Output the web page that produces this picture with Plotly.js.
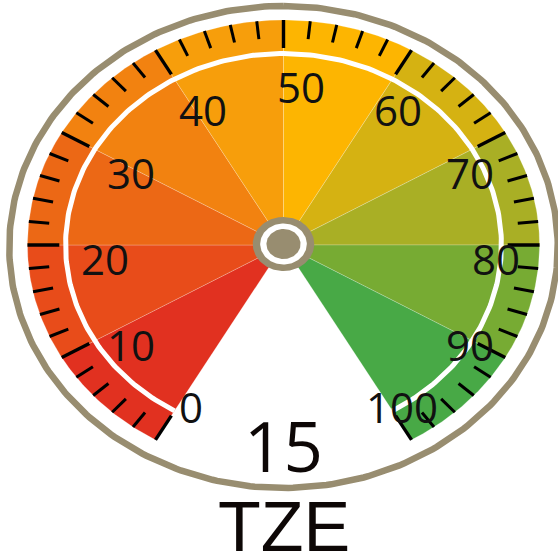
<!DOCTYPE html>
<html><head><meta charset="utf-8">
<script src="https://cdn.plot.ly/plotly-3.0.1.min.js"></script>
<style>html,body{margin:0;padding:0;background:#fff;overflow:hidden}#chart{width:558px;height:559px;}</style>
</head><body><div id="chart"></div>
<script>
// ---- data ----
const scaleMin = 0;
const scaleMax = 100;
const bandEdges = [0, 10, 20, 30, 40, 50, 60, 70, 80, 90, 100];
const bandColors = ['#E13120', '#E84C1A', '#EC6815', '#F28210', '#F79E0B', '#FDB501', '#D5B212', '#A9AF25', '#77AB33', '#48A946'];
const tickLabels = ['0', '10', '20', '30', '40', '50', '60', '70', '80', '90', '100'];
const tickValues = [0, 10, 20, 30, 40, 50, 60, 70, 80, 90, 100];
const minorStep = 2;
const gaugeValue = 15;
const unitLabel = 'TZE';

// ---- geometry (styling constants) ----
const W = 558, H = 559;
const CX = 283.5, CY = 245;      // pixel centre
const SX = 1.138;                // horizontal stretch (px per unit)
const START = -150, END = 150;   // degrees from top, clockwise
const R_BAND = 225, R_ARC = 191.5, R_LAB = 172, R_FRAME = 241;
const MAJ = 28, MIN = 18;
const FRAME = '#988D70';
const FONT = '"Open Sans", "Noto Sans", sans-serif';

const deg = Math.PI / 180;
const ang = v => (START + (v - scaleMin) / (scaleMax - scaleMin) * (END - START)) * deg;
const pt = (v, r) => [r * Math.sin(ang(v)), r * Math.cos(ang(v))];

const traces = [];

// wedges
for (let i = 0; i < bandColors.length; i++) {
  const a = bandEdges[i], b = bandEdges[i + 1];
  const xs = [0], ys = [0];
  const n = 40;
  for (let k = 0; k <= n; k++) {
    const v = a + (b - a) * k / n;
    const p = pt(v, R_BAND); xs.push(p[0]); ys.push(p[1]);
  }
  xs.push(0); ys.push(0);
  traces.push({type: 'scatter', mode: 'lines', x: xs, y: ys, fill: 'toself',
    fillcolor: bandColors[i], line: {color: 'rgba(255,255,255,0.28)', width: 0.8},
    hoverinfo: 'skip', showlegend: false});
}

// white arc
(function () {
  const xs = [], ys = [];
  for (let k = 0; k <= 300; k++) {
    const v = scaleMin + (scaleMax - scaleMin) * k / 300;
    const p = pt(v, R_ARC); xs.push(p[0]); ys.push(p[1]);
  }
  traces.push({type: 'scatter', mode: 'lines', x: xs, y: ys,
    line: {color: '#ffffff', width: 5}, hoverinfo: 'skip', showlegend: false});
})();

// ticks
(function () {
  const mx = [], my = [], nx = [], ny = [];
  for (let v = scaleMin; v <= scaleMax + 1e-9; v += minorStep) {
    const major = tickValues.includes(v);
    const p1 = pt(v, R_BAND), p2 = pt(v, R_BAND - (major ? MAJ : MIN));
    const X = major ? mx : nx, Y = major ? my : ny;
    X.push(p1[0], p2[0], null); Y.push(p1[1], p2[1], null);
  }
  traces.push({type: 'scatter', mode: 'lines', x: nx, y: ny, line: {color: '#000', width: 3},
    hoverinfo: 'skip', showlegend: false});
  traces.push({type: 'scatter', mode: 'lines', x: mx, y: my, line: {color: '#000', width: 3.4},
    hoverinfo: 'skip', showlegend: false});
})();

// frame ellipse
(function () {
  const xs = [], ys = [];
  for (let k = 0; k <= 360; k++) { xs.push(R_FRAME * Math.sin(k * deg)); ys.push(R_FRAME * Math.cos(k * deg) - 2); }
  traces.push({type: 'scatter', mode: 'lines', x: xs, y: ys, line: {color: FRAME, width: 6.5},
    hoverinfo: 'skip', showlegend: false});
})();

// hub
function disc(r, color) {
  const xs = [], ys = [];
  for (let k = 0; k <= 360; k += 3) { xs.push(r * Math.sin(k * deg)); ys.push(r * Math.cos(k * deg) + 1); }
  traces.push({type: 'scatter', mode: 'lines', x: xs, y: ys, fill: 'toself', fillcolor: color,
    line: {color: color, width: 0}, hoverinfo: 'skip', showlegend: false});
}
disc(27, FRAME); disc(20.5, '#ffffff'); disc(15, FRAME);

// labels
const annotations = tickValues.map((v, i) => {
  const p = pt(v, R_LAB);
  return {x: p[0], y: p[1], text: tickLabels[i], showarrow: false, xanchor: 'left', yanchor: 'middle',
    xshift: -9 - (tickLabels[i].length > 2 ? 8 : 0), yshift: -13, font: {family: FONT, size: 42, color: '#111'}};
});
annotations.push({x: 0, y: CY - 445, text: String(gaugeValue), showarrow: false, xanchor: 'center', yanchor: 'middle',
  font: {family: FONT, size: 69, color: '#0D0706'}});
annotations.push({x: 0, y: CY - 527, text: unitLabel, showarrow: false, xanchor: 'center', yanchor: 'middle',
  font: {family: '"Liberation Sans", Arial, sans-serif', size: 70, color: '#0D0706'}});

const layout = {
  width: W, height: H, margin: {l: 0, r: 0, t: 0, b: 0, pad: 0},
  paper_bgcolor: '#fff', plot_bgcolor: '#fff', showlegend: false,
  xaxis: {range: [-CX / SX, (W - CX) / SX], visible: false, fixedrange: true},
  yaxis: {range: [-(H - CY), CY], visible: false, fixedrange: true},
  annotations: annotations
};
Plotly.newPlot('chart', traces, layout, {displayModeBar: false, staticPlot: true});
</script></body></html>
